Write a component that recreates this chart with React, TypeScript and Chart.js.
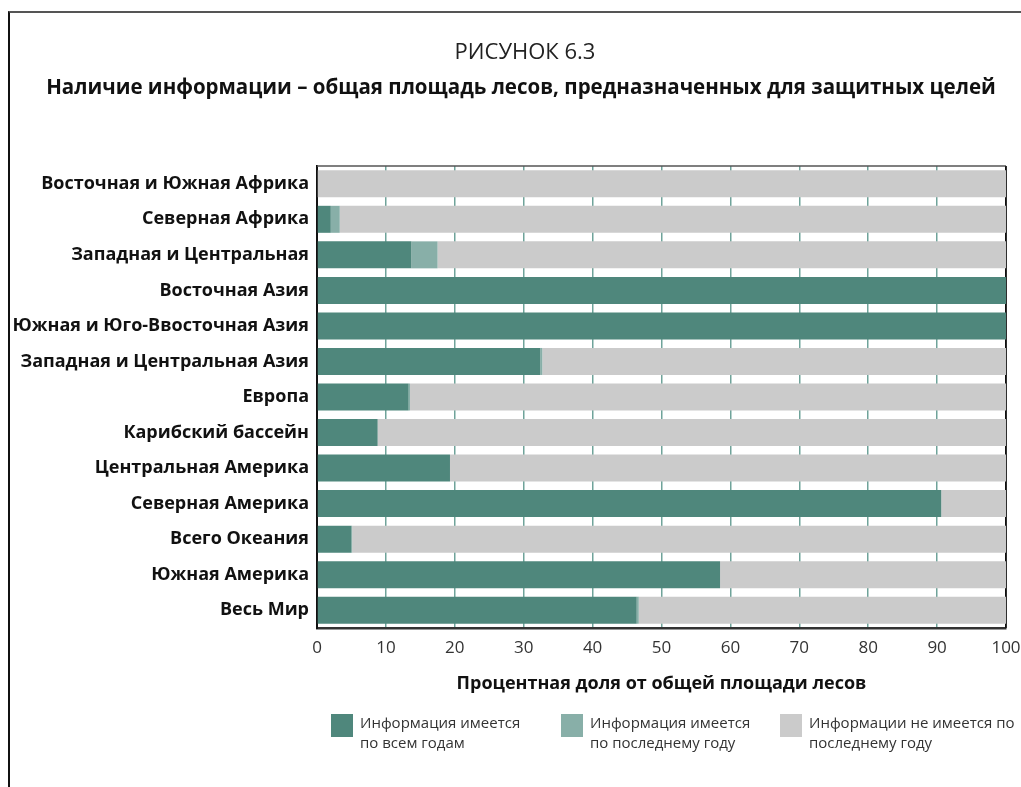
import React, { useEffect, useRef } from 'react';
import { Chart, registerables } from 'chart.js';

Chart.register(...registerables);

const categories = [
  'Восточная и Южная Африка',
  'Северная Африка',
  'Западная и Центральная',
  'Восточная Азия',
  'Южная и Юго-Ввосточная Азия',
  'Западная и Центральная Азия',
  'Европа',
  'Карибский бассейн',
  'Центральная Америка',
  'Северная Америка',
  'Всего Океания',
  'Южная Америка',
  'Весь Мир',
];

const allYears = [0, 2.0, 13.7, 100, 100, 32.4, 13.3, 8.8, 19.3, 90.6, 5.0, 58.5, 46.4];
const latestYear = [0, 1.3, 3.8, 0, 0, 0.3, 0.2, 0, 0, 0, 0.1, 0, 0.3];
const noInfo = [100, 96.7, 82.5, 0, 0, 67.3, 86.5, 91.2, 80.7, 9.4, 94.9, 41.5, 53.3];

const seriesLabels = [
  ['Информация имеется', 'по всем годам'],
  ['Информация имеется', 'по последнему году'],
  ['Информации не имеется по', 'последнему году'],
];
const seriesColors = ['#4f877c', '#88afa8', '#cbcbcb'];

const xTicks = [0, 10, 20, 30, 40, 50, 60, 70, 80, 90, 100];

const figureLabel = 'РИСУНОК 6.3';
const titleText = 'Наличие информации – общая площадь лесов, предназначенных для защитных целей';
const xAxisTitle = 'Процентная доля от общей площади лесов';

const FONT = '"Open Sans", sans-serif';

export default function App() {
  const ref = useRef<HTMLCanvasElement>(null);

  useEffect(() => {
    document.documentElement.style.overflow = 'hidden';
    document.body.style.overflow = 'hidden';
    if (!ref.current) return;
    const framePlugin = {
      id: 'frame',
      beforeDatasetsDraw(chart: any) {
        const { ctx, chartArea: a } = chart;
        ctx.save();
        ctx.lineWidth = 1.5;
        ctx.strokeStyle = '#555555';
        ctx.beginPath();
        ctx.moveTo(a.left, a.top);
        ctx.lineTo(a.right, a.top);
        ctx.stroke();
        ctx.strokeStyle = '#111111';
        ctx.beginPath();
        ctx.moveTo(a.right, a.top);
        ctx.lineTo(a.right, a.bottom);
        ctx.stroke();
        ctx.restore();
      },
    };

    const chart = new Chart(ref.current, {
      type: 'bar',
      data: {
        labels: categories,
        datasets: [
          { label: seriesLabels[0].join(' '), data: allYears, backgroundColor: seriesColors[0] },
          { label: seriesLabels[1].join(' '), data: latestYear, backgroundColor: seriesColors[1] },
          { label: seriesLabels[2].join(' '), data: noInfo, backgroundColor: seriesColors[2] },
        ],
      },
      options: {
        indexAxis: 'y',
        responsive: false,
        animation: false,
        layout: { padding: { left: 0, right: 30, top: 153, bottom: 84 } },
        datasets: {
          bar: { categoryPercentage: 1, barPercentage: 0.76, borderWidth: 0 },
        },
        plugins: {
          legend: { display: false },
          tooltip: { enabled: false },
        },
        scales: {
          x: {
            stacked: true,
            min: 0,
            max: 100,
            afterBuildTicks: (s: any) => {
              s.ticks = xTicks.map((v) => ({ value: v }));
            },
            grid: {
              drawTicks: false,
              color: (c: any) => (c.tick && c.tick.value === 100 ? '#111' : '#6fa39a'),
              lineWidth: 1.5,
            },
            border: { display: true, color: '#333', width: 2.5 },
            ticks: {
              padding: 10,
              color: '#333',
              font: { family: FONT, size: 17 },
            },
            title: {
              display: true,
              text: xAxisTitle,
              color: '#111',
              font: { family: FONT, size: 18, weight: 'bold' },
              padding: { top: 5, bottom: 0 },
            },
          },
          y: {
            stacked: true,
            afterFit: (s: any) => {
              s.width = 307;
            },
            grid: { display: false, drawTicks: false },
            border: { display: true, color: '#111', width: 2 },
            ticks: {
              padding: 8,
              color: '#111',
              autoSkip: false,
              font: { family: FONT, size: 18, weight: 'bold' },
            },
          },
        },
      },
      plugins: [framePlugin],
    });
    return () => chart.destroy();
  }, []);

  const legendX = [321, 551, 770];

  return (
    <div
      style={{
        position: 'fixed',
        left: 8,
        top: 11,
        width: 1100,
        height: 800,
        overflow: 'hidden',
        borderTop: '2px solid #555',
        borderLeft: '2px solid #111',
        boxSizing: 'border-box',
      }}
    >
      <div
        style={{
          position: 'absolute',
          left: 0,
          top: 24,
          width: 1030,
          textAlign: 'center',
          fontFamily: FONT,
          fontSize: 22,
          lineHeight: '26px',
          color: '#222',
        }}
      >
        {figureLabel}
      </div>
      <div
        style={{
          position: 'absolute',
          left: 0,
          top: 61,
          width: 1022,
          textAlign: 'center',
          fontFamily: FONT,
          fontSize: 20.5,
          fontWeight: 'bold',
          lineHeight: '25px',
          color: '#111',
          whiteSpace: 'nowrap',
        }}
      >
        {titleText}
      </div>
      <canvas ref={ref} width={1026} height={766} style={{ display: 'block', position: 'absolute', left: 0, top: 0 }} />
      {seriesLabels.map((lines, i) => (
        <div
          key={i}
          style={{
            position: 'absolute',
            left: legendX[i],
            top: 701,
            display: 'flex',
            alignItems: 'flex-start',
            whiteSpace: 'nowrap',
          }}
        >
          <div style={{ width: 22, height: 23, background: seriesColors[i], marginRight: 7 }} />
          <div style={{ fontFamily: FONT, fontSize: 15, lineHeight: '20px', color: '#333', marginTop: -2 }}>
            {lines.map((l, j) => (
              <div key={j}>{l}</div>
            ))}
          </div>
        </div>
      ))}
    </div>
  );
}
